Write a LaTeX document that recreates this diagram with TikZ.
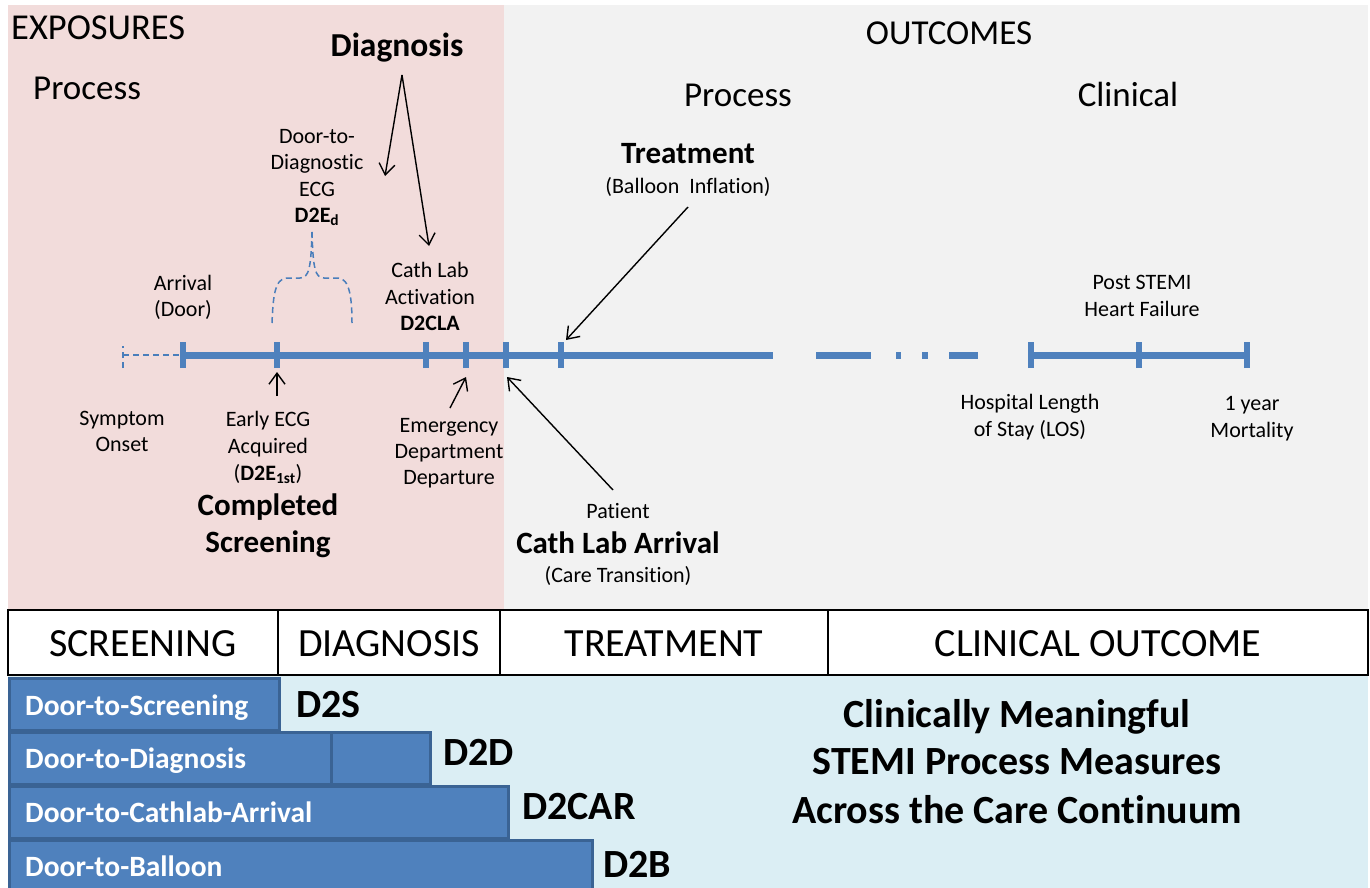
\documentclass[tikz,border=0pt]{standalone}
\usepackage{fontspec}
\setmainfont{Carlito}[Ligatures=NoCommon]
\usetikzlibrary{arrows.meta}
\definecolor{pinkbg}{HTML}{F2DCDB}
\definecolor{greybg}{HTML}{F2F2F2}
\definecolor{bluebg}{HTML}{DBEEF4}
\definecolor{barblue}{HTML}{4F81BD}
\definecolor{bardark}{HTML}{3A6394}
\definecolor{lineblue}{HTML}{4A7EBB}
\newcommand{\fsz}[1]{\fontsize{#1}{#1}\selectfont}
\tikzset{
  txt/.style={inner sep=0pt, anchor=base, font=\fsz{22}},
  bigtxt/.style={inner sep=0pt, anchor=base, font=\fsz{35}},
  boldtxt/.style={inner sep=0pt, anchor=base, font=\fsz{31}\bfseries},
  hdr/.style={draw=black, line width=1.5pt, fill=white, inner sep=0pt, minimum height=65pt},
  hdrtxt/.style={inner sep=0pt, anchor=base, font=\fsz{40}},
  barbox/.style={draw=bardark, line width=3pt, fill=barblue, inner sep=0pt, anchor=north west, minimum height=52pt},
  bartxt/.style={inner sep=0pt, anchor=base west, font=\fsz{29.5}\bfseries, text=white},
  measure/.style={inner sep=0pt, anchor=base west, font=\fsz{40}\bfseries},
  summary/.style={inner sep=0pt, anchor=base, font=\fsz{40}\bfseries},
  tline/.style={draw=barblue, line width=7pt},
  tmark/.style={draw=barblue, line width=6.5pt},
  thin/.style={draw=lineblue, line width=1.5pt, dash pattern=on 6pt off 4pt},
  pointer/.style={draw=black, line width=1.4pt, -{Straight Barb[length=11pt,width=16pt,line width=1.4pt]}},
}
\begin{document}
\begin{tikzpicture}[x=1pt,y=-1pt]
\useasboundingbox (0,0) rectangle (1370,888);
\fill[white] (0,0) rectangle (1370,888);
% backgrounds
\fill[pinkbg] (8,5) rectangle (504,609);
\fill[greybg] (504,5) rectangle (1368,609);
\fill[bluebg] (8,675) rectangle (1368,888);

% section titles
\node[inner sep=0pt, anchor=base west, font=\fsz{36.5}] (exp) at (11,40) {EXPOSURES};
\node[inner sep=0pt, anchor=base west, font=\fsz{35}] (procL) at (33,100) {Process};
\node[bigtxt] (outc) at (949,45) {OUTCOMES};
\node[bigtxt] (procR) at (738,107) {Process};
\node[bigtxt] (clin) at (1128,107) {Clinical};
\node[inner sep=0pt, anchor=base, font=\fsz{33.5}\bfseries] (diag) at (397,57) {Diagnosis};

% timeline
\coordinate (s0) at (123,355);
\coordinate (t1) at (183,355);
\coordinate (t2) at (277,355);
\coordinate (t3) at (426,355);
\coordinate (t4) at (466,355);
\coordinate (t5) at (506,355);
\coordinate (t6) at (561,355);
\coordinate (tE) at (773,355);
\coordinate (r1) at (1031,355);
\coordinate (r2) at (1139,355);
\coordinate (r3) at (1247,355);
\draw[thin] (s0) -- (t1);
\draw[thin] ([yshift=-13pt]s0) -- ([yshift=9pt]s0);
\draw[tline] (t1) -- (tE);
\foreach \p in {t1,t2,t3,t4,t5,t6,r1,r2,r3}
  \draw[tmark] ([yshift=-13pt]\p) -- ([yshift=13pt]\p);
\draw[tline] (816,355) -- (871,355);
\draw[tline] (896,355) -- (901,355);
\draw[tline] (922,355) -- (928,355);
\draw[tline] (949,355) -- (978,355);
\draw[tline] (r1) -- (r3);

% brace
\draw[thin] (272,323) .. controls (273,300) and (274,278) .. (287,278) -- (300,278)
  .. controls (309,278) and (311,268) .. (312,232);
\draw[thin] (312,232) .. controls (313,268) and (315,278) .. (324,278) -- (338,278)
  .. controls (350,278) and (352,300) .. (352,323);

% upper texts
\node[txt] (dd1) at (317,143) {Door-to-};
\node[txt] (dd2) at (317,169) {Diagnostic};
\node[txt] (dd3) at (317,196) {ECG};
\node[txt, font=\fsz{22}\bfseries] (dd4) at (317,222) {D2E\textsubscript{d}};
\node[txt] (arr1) at (183,290) {Arrival};
\node[txt] (arr2) at (183,316) {(Door)};
\node[txt] (cla1) at (430,277) {Cath Lab};
\node[txt] (cla2) at (430,304) {Activation};
\node[txt, font=\fsz{22}\bfseries] (cla3) at (430,330) {D2CLA};
\node[boldtxt] (treat) at (688,163) {Treatment};
\node[txt] (treat2) at (688,193) {(Balloon\ \ Inflation)};
\node[txt] (hf1) at (1142,289) {Post STEMI};
\node[txt] (hf2) at (1142,316) {Heart Failure};

% lower texts
\node[txt] (so1) at (122,425) {Symptom};
\node[txt] (so2) at (122,451) {Onset};
\node[txt] (ee1) at (268,426) {Early ECG};
\node[txt] (ee2) at (268,453) {Acquired};
\node[txt] (ee3) at (268,480) {(\textbf{D2E\textsubscript{1st}})};
\node[boldtxt] (cs1) at (268,515) {Completed};
\node[boldtxt] (cs2) at (268,552) {Screening};
\node[txt] (ed1) at (449,432) {Emergency};
\node[txt] (ed2) at (449,458) {Department};
\node[txt] (ed3) at (449,484) {Departure};
\node[txt] (pa1) at (618,518) {Patient};
\node[boldtxt] (pa2) at (618,553) {Cath Lab Arrival};
\node[txt] (pa3) at (618,582) {(Care Transition)};
\node[txt] (los1) at (1030,409) {Hospital Length};
\node[txt] (los2) at (1030,436) {of Stay (LOS)};
\node[txt] (mo1) at (1252,410) {1 year};
\node[txt] (mo2) at (1252,437) {Mortality};

% pointers
\coordinate (dgs) at (402,75);
\coordinate (dge1) at (385,176);
\coordinate (dge2) at (429,246);
\draw[pointer] (dgs) -- (dge1);
\draw[pointer] (dgs) -- (dge2);
\coordinate (ees) at (277,396);
\coordinate (eee) at (277,372);
\draw[pointer] (ees) -- (eee);
\coordinate (eds) at (450,408);
\coordinate (ede) at (466,377);
\draw[pointer] (eds) -- (ede);
\coordinate (cas) at (613,490);
\coordinate (cae) at (507,377);
\draw[pointer] (cas) -- (cae);
\coordinate (trs) at (688,207);
\coordinate (tre) at (566,340);
\draw[pointer] (trs) -- (tre);

% header row
\node[hdr, minimum width=270pt] (hs) at (143,642.5) {};
\node[hdr, minimum width=222pt] (hd) at (389,642.5) {};
\node[hdr, minimum width=328pt] (ht) at (664,642.5) {};
\node[hdr, minimum width=540pt] (hc) at (1098,642.5) {};
\node[hdrtxt] (hst) at (hs.center |- 0,656) {SCREENING};
\node[hdrtxt] (hdt) at (hd.center |- 0,656) {DIAGNOSIS};
\node[hdrtxt] (htt) at (ht.center |- 0,656) {TREATMENT};
\node[hdrtxt] (hct) at (hc.center |- 0,656) {CLINICAL OUTCOME};

% bars
\node[barbox, minimum width=270pt] (b1) at (8,677) {};
\node[barbox, minimum width=322pt] (b2a) at (8,731) {};
\node[barbox, minimum width=99pt] (b2b) at (330,731) {};
\node[barbox, minimum width=499pt] (b3) at (8,785) {};
\node[barbox, minimum width=583pt, minimum height=60pt] (b4) at (8,839) {};
\node[bartxt] (b1t) at (25,715) {Door-to-Screening};
\node[bartxt] (b2t) at (25,768) {Door-to-Diagnosis};
\node[bartxt] (b3t) at (25,822) {Door-to-Cathlab-Arrival};
\node[bartxt] (b4t) at (25,876) {Door-to-Balloon};
\node[measure] (m1) at (296,717) {D2S};
\node[measure] (m2) at (443,765) {D2D};
\node[measure] (m3) at (522,819) {D2CAR};
\node[measure] (m4) at (603,877) {D2B};

% summary
\node[summary] (sm1) at (1017,727) {Clinically Meaningful};
\node[summary] (sm2) at (1017,774) {STEMI Process Measures};
\node[summary] (sm3) at (1017,823) {Across the Care Continuum};
\end{tikzpicture}
\end{document}
